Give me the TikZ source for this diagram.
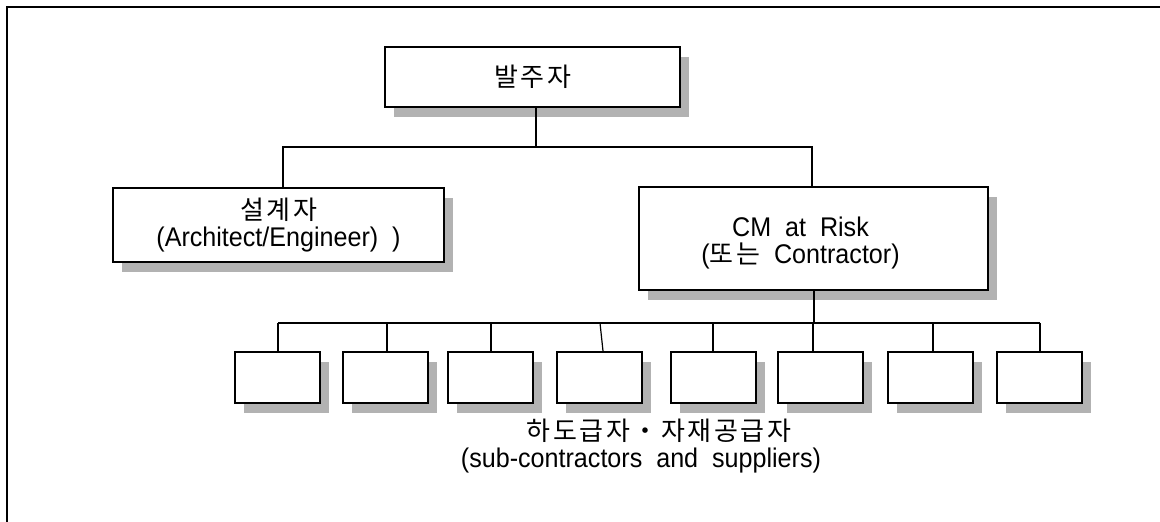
\documentclass[tikz,border=0pt]{standalone}
\usepackage{fontspec}
\setmainfont{Liberation Sans}[WordSpace=2, FakeStretch=0.93]
\newfontfamily\kr{Noto Sans CJK KR}[LetterSpace=10]
\usetikzlibrary{shadows}

% Hangul run, tracked a little wider than the font's default
\newcommand\hangul[1]{{\kr\fontsize{13}{13.5}\selectfont #1}}

\tikzset{
  box/.style={draw=black, line width=1pt, fill=white, inner sep=0pt,
    drop shadow={shadow xshift=4.5pt, shadow yshift=-5pt,
                 fill=black!30, opacity=1}},
  txt/.style={font=\fontsize{13.5}{13.5}\selectfont, align=center},
  link/.style={line width=0.6pt},
  frame/.style={line width=0.9pt}
}

\begin{document}
\begin{tikzpicture}[x=0.5pt, y=-0.5pt]
\useasboundingbox (0,0) rectangle (1160,522);

% open frame: left and top edges only
\draw[frame] (7,522) -- (7,7) -- (1160,7);

% owner, designer and CM
\node[box, txt, minimum width=147.5pt, minimum height=30pt] (owner)
  at (532.5,77) {\hangul{발주자}};
\node[box, txt, minimum width=165.5pt, minimum height=37pt] (designer)
  at (278.5,225) {\hangul{설계자}\\(Architect/Engineer) )};
\node[box, txt, minimum width=174.5pt, minimum height=51.5pt] (cm)
  at (813.5,238.5)
  {\rule{0pt}{14pt}CM at Risk\hspace*{13pt}\\(\hangul{또는} Contractor)\hspace*{13pt}};

% sub-contractor boxes
\foreach \i/\x in {1/277.5, 2/385.5, 3/490.5, 4/599.5,
                   5/713.5, 6/820.5, 7/930.5, 8/1039.5}
  \node[box, minimum width=42.5pt, minimum height=25.5pt] (s\i) at (\x,377.5) {};

\node[txt] (subs) at (641,446)
  {\hspace*{18pt}\hangul{하도급자・자재공급자}\\(sub-contractors and suppliers)};

% upper tree
\coordinate (j0) at (536,147);
\coordinate (jL) at (283,147);
\coordinate (jR) at (812,147);
\draw[link] (j0 |- owner.south) -- (j0);
\draw[link] (jL |- designer.north) -- (jL) -- (jR) -- (jR |- cm.north);

% lower tree
\coordinate (j1) at (814,323);
\draw[link] (j1 |- cm.south) -- (j1);
\foreach \i/\x in {1/278, 2/387, 3/491, 4/600, 5/713, 6/813, 7/933, 8/1040}
  \coordinate (b\i) at (\x,323);
\draw[link] (b1) -- (b8);
\foreach \i in {1,2,3,5,6,7,8}
  \draw[link] (b\i) -- (b\i |- s\i.north);
\draw[link] (b4) -- ([xshift=1.5pt]b4 |- s4.north);
\end{tikzpicture}
\end{document}
